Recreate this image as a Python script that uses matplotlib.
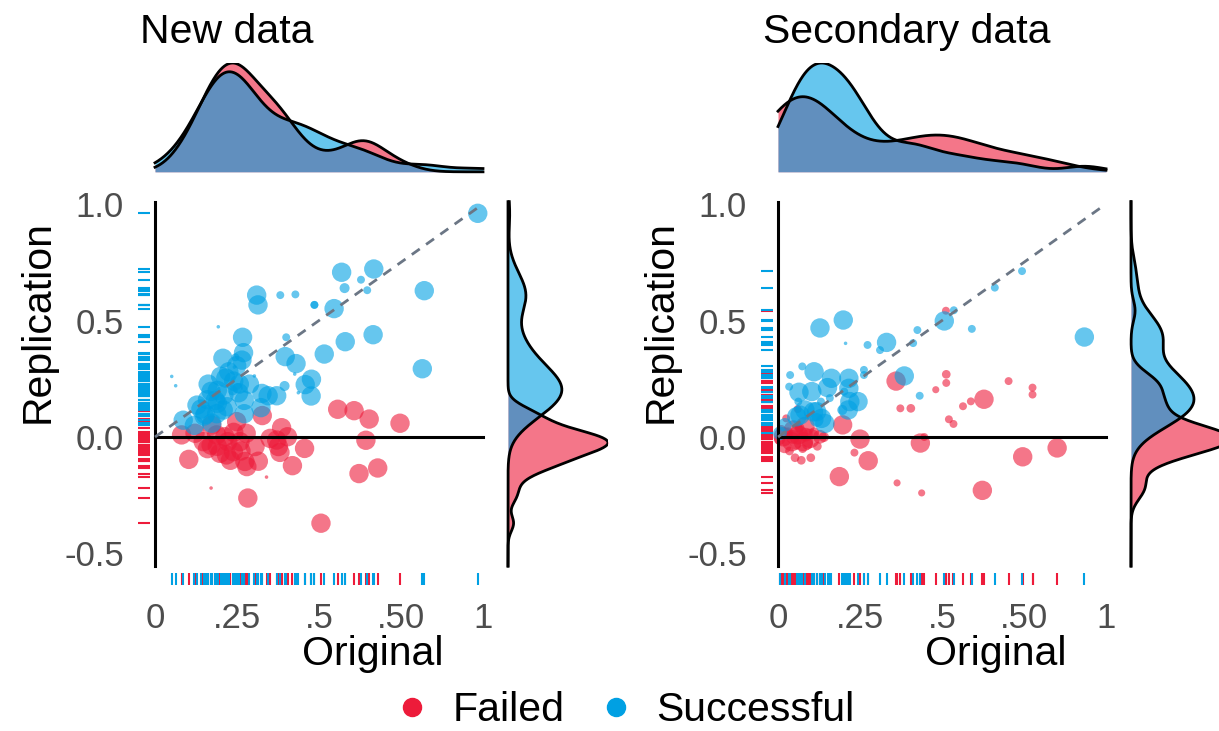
import numpy as np
import matplotlib.pyplot as plt
from matplotlib.lines import Line2D

plt.rcParams['font.family'] = ['Liberation Sans', 'DejaVu Sans']

RED = '#ED1B3A'
BLUE = '#00A0E3'

# ---- New data ----
new_fail_x = [0.081, 0.103, 0.122, 0.147, 0.171, 0.173, 0.188, 0.198, 0.218, 0.213,
              0.239, 0.249, 0.259, 0.278, 0.280, 0.274, 0.305, 0.315, 0.327, 0.351,
              0.371, 0.386, 0.381, 0.376, 0.404, 0.419, 0.456, 0.283, 0.506, 0.557,
              0.607, 0.653, 0.747, 0.643, 0.622, 0.679, 0.340, 0.171,
              0.160, 0.222, 0.240, 0.262, 0.230, 0.190]
new_fail_y = [0.009, -0.096, 0.016, -0.020, -0.035, 0.051, 0.009, -0.070, -0.077, 0.001,
              -0.063, 0.066, -0.020, 0.016, -0.127, -0.105, -0.041, -0.104, 0.092, -0.006,
              -0.013, 0.040, -0.066, -0.041, 0.001, -0.123, -0.049, -0.262, -0.370, 0.119,
              0.113, 0.077, 0.059, -0.014, -0.157, -0.133, -0.172, -0.219,
              -0.050, -0.020, 0.020, -0.060, -0.100, -0.040]
new_fail_n = [30, 30, 30, 30, 30, 30, 30, 30, 30, 30,
              30, 30, 30, 30, 30, 30, 30, 30, 30, 30,
              30, 30, 30, 30, 30, 30, 30, 30, 30, 30,
              30, 30, 30, 30, 30, 30, 1, 1,
              30, 30, 30, 30, 30, 30]

new_succ_x = [0.984, 0.569, 0.667, 0.628, 0.578, 0.647, 0.821, 0.310, 0.314, 0.382,
              0.428, 0.486, 0.486, 0.546, 0.193, 0.400, 0.267, 0.665, 0.580, 0.270,
              0.207, 0.397, 0.430, 0.516, 0.815, 0.249, 0.245, 0.216, 0.162, 0.171,
              0.184, 0.257, 0.288, 0.272, 0.326, 0.345, 0.371, 0.323, 0.458, 0.477,
              0.476, 0.395, 0.426, 0.303, 0.051, 0.063, 0.437, 0.128, 0.208, 0.237,
              0.252, 0.242, 0.272, 0.188, 0.086, 0.154, 0.173, 0.190,
              0.140, 0.160, 0.190, 0.210, 0.220, 0.240, 0.200, 0.150, 0.120,
              0.225, 0.255, 0.265]
new_succ_y = [0.960, 0.707, 0.721, 0.675, 0.639, 0.630, 0.628, 0.609, 0.567, 0.609,
              0.612, 0.567, 0.567, 0.551, 0.473, 0.428, 0.428, 0.439, 0.409, 0.362,
              0.338, 0.345, 0.315, 0.356, 0.293, 0.306, 0.342, 0.253, 0.227, 0.196,
              0.157, 0.227, 0.227, 0.157, 0.187, 0.177, 0.177, 0.126, 0.225, 0.248,
              0.176, 0.219, 0.270, 0.262, 0.260, 0.220, 0.190, 0.137, 0.116, 0.200,
              0.210, 0.300, 0.100, 0.100, 0.072, 0.097, 0.059, 0.145,
              0.120, 0.160, 0.200, 0.180, 0.130, 0.240, 0.260, 0.090, 0.050,
              0.280, 0.190, 0.330]
new_succ_n = [30, 30, 30, 5, 8, 5, 30, 30, 30, 5,
              5, 5, 5, 30, 1, 5, 30, 30, 30, 30,
              30, 30, 30, 30, 30, 30, 5, 30, 30, 30,
              30, 30, 30, 30, 30, 30, 30, 30, 30, 30,
              30, 8, 1, 1, 1, 1, 1, 30, 30, 8,
              8, 1, 30, 30, 30, 30, 30, 30,
              30, 30, 30, 30, 30, 30, 30, 30, 30,
              30, 30, 30]

# ---- Secondary data ----
sec_fail_x = [0.512, 0.360, 0.513, 0.513, 0.481, 0.703, 0.776, 0.776, 0.628, 0.588,
              0.564, 0.405, 0.373, 0.521, 0.535, 0.197, 0.250, 0.275, 0.187, 0.233,
              0.434, 0.446, 0.363, 0.438, 0.623, 0.746, 0.851, 0.052, 0.071, 0.100,
              0.016, 0.042, 0.077, 0.098, 0.128, 0.047, 0.082, 0.062,
              0.005, 0.010, 0.020, 0.030, 0.035, 0.045, 0.055, 0.065, 0.075, 0.085,
              0.090, 0.110, 0.120, 0.140, 0.025, 0.060]
sec_fail_y = [0.542, 0.240, 0.269, 0.232, 0.203, 0.240, 0.212, 0.182, 0.162, 0.153,
              0.132, 0.123, 0.123, 0.076, 0.056, 0.052, -0.009, -0.102, -0.170, -0.067,
              -0.026, 0.000, -0.197, -0.240, -0.229, -0.085, -0.047, -0.089, -0.100, -0.089,
              0.001, -0.020, -0.020, -0.006, 0.001, 0.030, 0.045, 0.009,
              -0.010, 0.030, -0.040, 0.020, -0.060, 0.000, -0.030, 0.040, -0.050, 0.010,
              -0.030, 0.020, -0.040, 0.000, 0.080, 0.120]
sec_fail_n = [5, 30, 6, 5, 4, 5, 5, 5, 30, 5,
              5, 6, 5, 5, 5, 30, 30, 30, 30, 5,
              30, 5, 4, 4, 30, 30, 30, 6, 6, 6,
              30, 30, 30, 30, 15, 30, 30, 30,
              10, 8, 15, 8, 6, 15, 10, 8, 6, 15,
              10, 8, 6, 8, 5, 5]

sec_succ_x = [0.744, 0.661, 0.536, 0.507, 0.591, 0.425, 0.199, 0.128, 0.206, 0.273,
              0.331, 0.311, 0.412, 0.934, 0.074, 0.037, 0.110, 0.163, 0.216, 0.262,
              0.262, 0.385, 0.034, 0.064, 0.103, 0.151, 0.216, 0.202, 0.244, 0.219,
              0.214, 0.196, 0.158, 0.131, 0.062, 0.432, 0.082, 0.118, 0.133, 0.057,
              0.118, 0.006, 0.021, 0.067, 0.108, 0.143]
sec_succ_y = [0.712, 0.641, 0.544, 0.498, 0.464, 0.459, 0.502, 0.468, 0.402, 0.395,
              0.406, 0.373, 0.403, 0.429, 0.303, 0.266, 0.280, 0.252, 0.252, 0.288,
              0.266, 0.262, 0.216, 0.192, 0.195, 0.212, 0.209, 0.195, 0.152, 0.152,
              0.116, 0.116, 0.167, 0.152, 0.152, 0.177, 0.116, 0.109, 0.080, 0.087,
              0.073, 0.016, 0.052, 0.094, 0.108, 0.058]
sec_succ_n = [5, 5, 5, 30, 5, 5, 30, 30, 1, 5,
              30, 5, 5, 30, 5, 5, 30, 30, 30, 5,
              5, 30, 5, 30, 30, 30, 30, 5, 30, 30,
              30, 8, 5, 5, 5, 5, 30, 30, 30, 30,
              15, 15, 15, 30, 30, 30]

x_ticks = [0, 0.25, 0.5, 0.75, 1]
x_tick_labels = ['0', '.25', '.5', '.50', '1']
y_ticks = [-0.5, 0, 0.5, 1.0]
y_tick_labels = ['-0.5', '0.0', '0.5', '1.0']

W, H = 1219, 731
fig = plt.figure(figsize=(W / 100, H / 100), dpi=100)


def add_px(l, t, r, b):
    return fig.add_axes([l / W, 1 - b / H, (r - l) / W, (b - t) / H])


def kde(vals, grid):
    vals = np.asarray(vals, float)
    n = len(vals)
    sd = vals.std(ddof=1)
    q75, q25 = np.percentile(vals, [75, 25])
    bw = 0.9 * min(sd, (q75 - q25) / 1.34) * n ** -0.2
    z = (grid[:, None] - vals[None, :]) / bw
    return np.exp(-0.5 * z ** 2).sum(axis=1) / (n * bw * np.sqrt(2 * np.pi))


def panel(l, title, fx, fy, fn, sx, sy, sn):
    ax = add_px(l, 195, l + 352, 585)
    ax.set_xlim(-17 / 328, 335 / 328)
    ax.set_ylim((437 - 585) / 233, (437 - 195) / 233)
    for sp in ax.spines.values():
        sp.set_visible(False)

    ax.scatter(fx, fy, s=np.array(fn) * 6.5, color=RED, alpha=0.6, lw=0, zorder=2)
    ax.scatter(sx, sy, s=np.array(sn) * 6.5, color=BLUE, alpha=0.6, lw=0, zorder=2)

    ax.plot([0, 0], [-0.554, 1.01], color='black', lw=2.2, zorder=3)
    ax.plot([0, 1], [0, 0], color='black', lw=2.2, zorder=3)
    ax.plot([0, 1], [0, 1], color='#6B7685', lw=2, ls=(0, (3.5, 2.8)), zorder=4)

    # rugs
    ax.vlines(fx, 0, 0.031, transform=ax.get_xaxis_transform(), colors=RED, lw=1.5)
    ax.vlines(sx, 0, 0.031, transform=ax.get_xaxis_transform(), colors=BLUE, lw=1.5)
    ax.hlines(fy, 0, 0.034, transform=ax.get_yaxis_transform(), colors=RED, lw=1.5)
    ax.hlines(sy, 0, 0.034, transform=ax.get_yaxis_transform(), colors=BLUE, lw=1.5)

    ax.set_xticks(x_ticks)
    ax.set_xticklabels(x_tick_labels)
    ax.set_yticks(y_ticks)
    ax.set_yticklabels(y_tick_labels)
    ax.tick_params(length=0, labelsize=25, labelcolor='#4D4D4D')
    ax.tick_params(axis='x', pad=12)
    ax.tick_params(axis='y', pad=10)

    # top marginal density
    gx = np.linspace(0, 1, 512)
    dfx, dsx = kde(fx, gx), kde(sx, gx)
    top = max(dfx.max(), dsx.max())
    axt = add_px(l, 63, l + 352, 174)
    axt.set_xlim(-17 / 328, 335 / 328)
    axt.set_ylim(-0.02 * top, top)
    axt.fill_between(gx, dfx, color=RED, alpha=0.6, lw=0)
    axt.plot(gx, dfx, color='black', lw=2)
    axt.fill_between(gx, dsx, color=BLUE, alpha=0.6, lw=0)
    axt.plot(gx, dsx, color='black', lw=2)
    axt.axis('off')

    # right marginal density
    gy = np.linspace(-0.554, 1.01, 512)
    dfy, dsy = kde(fy, gy), kde(sy, gy)
    right = max(dfy.max(), dsy.max())
    axr = add_px(l + 368, 195, l + 470, 585)
    axr.set_ylim((437 - 585) / 233, (437 - 195) / 233)
    axr.set_xlim(-0.02 * right, right)
    axr.fill_betweenx(gy, dfy, color=RED, alpha=0.6, lw=0)
    axr.plot(dfy, gy, color='black', lw=2)
    axr.fill_betweenx(gy, dsy, color=BLUE, alpha=0.6, lw=0)
    axr.plot(dsy, gy, color='black', lw=2)
    axr.axis('off')

    fig.text((l + 2) / W, 1 - 43 / H, title, fontsize=29.5, va='baseline', ha='left')
    fig.text((l - 100) / W, 1 - 322 / H, 'Replication', fontsize=29.5,
             rotation=90, va='center', ha='center')
    fig.text((l + 235) / W, 1 - 665 / H, 'Original', fontsize=29.5,
             va='baseline', ha='center')


panel(138, 'New data', new_fail_x, new_fail_y, new_fail_n,
      new_succ_x, new_succ_y, new_succ_n)
panel(761, 'Secondary data', sec_fail_x, sec_fail_y, sec_fail_n,
      sec_succ_x, sec_succ_y, sec_succ_n)

handles = [Line2D([], [], marker='o', ls='', color=RED, markersize=13),
           Line2D([], [], marker='o', ls='', color=BLUE, markersize=13)]
fig.legend(handles, ['Failed', 'Successful'], loc='center',
           bbox_to_anchor=(623 / W, 1 - 710 / H), ncol=2, frameon=False,
           fontsize=29.5, handletextpad=0.48, columnspacing=0.75, handlelength=1.0,
           borderpad=0.1)

fig.savefig('out.png', dpi=100)
